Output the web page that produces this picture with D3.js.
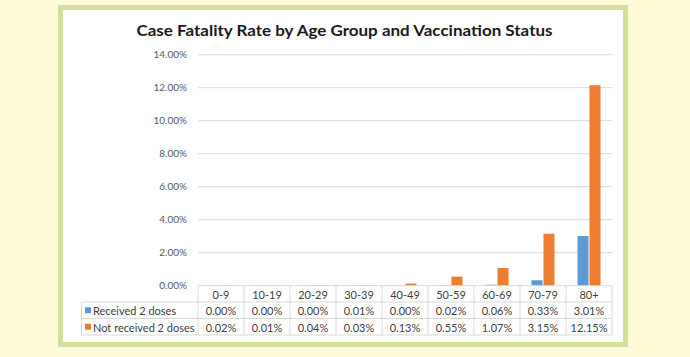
<!DOCTYPE html>
<html><head><meta charset="utf-8">
<script src="https://cdn.jsdelivr.net/npm/d3@7"></script>
<style>html,body{margin:0;padding:0;background:#FFFBD6;}svg{display:block;}</style>
</head><body>
<svg id="c" width="690" height="357"></svg>
<script>
const categories = ["0-9","10-19","20-29","30-39","40-49","50-59","60-69","70-79","80+"];
const seriesNames = ["Received 2 doses","Not received 2 doses"];
const received = [0.0000,0.0000,0.0000,0.0001,0.0000,0.0002,0.0006,0.0033,0.0301];
const notReceived = [0.0002,0.0001,0.0004,0.0003,0.0013,0.0055,0.0107,0.0315,0.1215];
const yTicks = [0,0.02,0.04,0.06,0.08,0.10,0.12,0.14];
const colors = ["#5B9BD5","#ED7D31"];
const title = "Case Fatality Rate by Age Group and Vaccination Status";

const svg = d3.select("#c");
const font = "Lato, 'Open Sans', sans-serif";

// frame
svg.append("rect").attr("x",58).attr("y",5).attr("width",570).attr("height",342).attr("fill","#D3E09B");
svg.append("rect").attr("x",63).attr("y",10).attr("width",560).attr("height",332).attr("fill","#ffffff");

svg.append("text").attr("x",344.5).attr("y",36).attr("text-anchor","middle")
  .attr("font-family",font).attr("font-weight","bold").attr("font-size",16)
  .attr("fill","#1a1a1a").attr("textLength",416).attr("lengthAdjust","spacingAndGlyphs").text(title);

const x = d3.scaleBand().domain(categories).range([198,612]);
const y = d3.scaleLinear().domain([0,0.14]).range([285.7,54.7]);

// gridlines
svg.append("g").selectAll("line").data(yTicks.slice(1)).join("line")
  .attr("x1",198).attr("x2",612).attr("y1",d=>y(d)).attr("y2",d=>y(d))
  .attr("stroke","#D9D9D9").attr("stroke-width",1);

// y labels
const yAxis = d3.axisLeft(y).tickValues(yTicks).tickFormat(d3.format(".2%")).tickSize(0).tickPadding(11);
const ga = svg.append("g").attr("transform","translate(198,0)").call(yAxis);
ga.select(".domain").remove();
ga.selectAll("text").attr("font-family",font).attr("font-size",10).attr("fill","#595959");

// bars
const sub = (c)=>{const cx=x(c)+x.bandwidth()/2; return d3.scaleBand().domain(seriesNames).range([cx-11.5,cx+11.5]).paddingInner(0.08);};
const data = [received, notReceived];
seriesNames.forEach((s,si)=>{
  svg.append("g").selectAll("rect").data(categories).join("rect")
    .attr("x",(c)=>sub(c)(s)).attr("width",(c)=>sub(c).bandwidth())
    .attr("y",(c,i)=>y(data[si][i])).attr("height",(c,i)=>y(0)-y(data[si][i]))
    .attr("fill",colors[si]);
});

// data table
const rowY = [285.7,302,318.5,335];
const lineCol = "#D9D9D9";
const tg = svg.append("g");
tg.append("line").attr("x1",198).attr("x2",612).attr("y1",rowY[0]).attr("y2",rowY[0]).attr("stroke",lineCol);
[1,2,3].forEach(r=>tg.append("line").attr("x1",81.5).attr("x2",612).attr("y1",rowY[r]).attr("y2",rowY[r]).attr("stroke",lineCol));
categories.forEach(c=>tg.append("line").attr("x1",x(c)).attr("x2",x(c)).attr("y1",rowY[0]).attr("y2",rowY[3]).attr("stroke",lineCol));
tg.append("line").attr("x1",612).attr("x2",612).attr("y1",rowY[0]).attr("y2",rowY[3]).attr("stroke",lineCol);
tg.append("line").attr("x1",81.5).attr("x2",81.5).attr("y1",rowY[1]).attr("y2",rowY[3]).attr("stroke",lineCol);

const txt = (xx,yy,t,anchor)=>tg.append("text").attr("x",xx).attr("y",yy).attr("text-anchor",anchor||"middle")
  .attr("dominant-baseline","central").attr("font-family",font).attr("font-size",11).attr("fill","#404040").text(t);
categories.forEach((c,i)=>{
  const cx = x(c)+x.bandwidth()/2;
  txt(cx,(rowY[0]+rowY[1])/2+0.5,c);
  txt(cx,(rowY[1]+rowY[2])/2+0.5,d3.format(".2%")(received[i]));
  txt(cx,(rowY[2]+rowY[3])/2+0.5,d3.format(".2%")(notReceived[i]));
});
seriesNames.forEach((s,si)=>{
  const cy = (rowY[si+1]+rowY[si+2])/2;
  tg.append("rect").attr("x",85).attr("y",cy-3).attr("width",6).attr("height",6).attr("fill",colors[si]);
  txt(93,cy+0.5,s,"start");
});
</script>
</body></html>
